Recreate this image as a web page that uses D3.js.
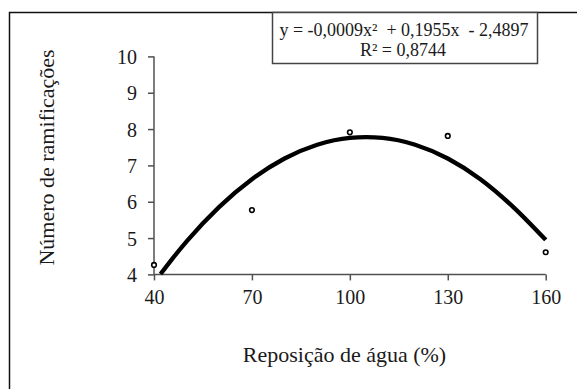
<!DOCTYPE html>
<html>
<head>
<meta charset="utf-8">
<script src="https://cdn.jsdelivr.net/npm/d3@7"></script>
<style>
  html, body { margin: 0; padding: 0; background: #fff; }
  svg { display: block; }
</style>
</head>
<body>
<svg id="chart" width="577" height="389"></svg>
<script>
// Observed data points
const waterLevels = [40, 70, 100, 130, 160];
const branchCounts = [4.26, 5.77, 7.91, 7.81, 4.61];

// Fitted trend line
const trendX = [42, 45, 50, 60, 70, 80, 90, 100, 105, 110, 120, 130, 140, 150, 160];
const trendY = [4.01, 4.36, 4.91, 5.86, 6.62, 7.19, 7.57, 7.76, 7.78, 7.76, 7.57, 7.19, 6.62, 5.86, 4.95];

// Axis ticks
const xTicks = [40, 70, 100, 130, 160];
const yTicks = [4, 5, 6, 7, 8, 9, 10];

// Texts
const xTitle = "Reposição de água (%)";
const yTitle = "Número de ramificações";
const eqLine1 = "y = -0,0009x²  + 0,1955x  - 2,4897";
const eqLine2 = "R² = 0,8744";

const FONT = "'Liberation Serif', 'Times New Roman', Times, serif";
const TXT = "#1a1a1a";

const svg = d3.select("#chart");

const x = d3.scaleLinear().domain([40, 160]).range([154, 545.7]);
const y = d3.scaleLinear().domain([4, 10]).range([274.4, 56.4]);

// Outer frame (top and left only visible)
svg.append("path")
  .attr("d", "M9.5,389 L9.5,12.5 L577,12.5")
  .attr("fill", "none").attr("stroke", "#111").attr("stroke-width", 1.5);

// Axes
const axisColor = "#505050";
const xAxis = svg.append("g").attr("transform", `translate(0,${y(4)})`)
  .call(d3.axisBottom(x).tickValues(xTicks).tickSize(6).tickPadding(9).tickFormat(d3.format("d")));
const yAxis = svg.append("g").attr("transform", `translate(${x(40)},0)`)
  .call(d3.axisLeft(y).tickValues(yTicks).tickSize(6).tickPadding(11).tickFormat(d3.format("d")));
[xAxis, yAxis].forEach(g => {
  g.attr("font-family", FONT).attr("font-size", 20);
  g.select(".domain").attr("stroke", axisColor).attr("stroke-width", 1.5);
  g.selectAll(".tick line").attr("stroke", axisColor).attr("stroke-width", 1.5);
  g.selectAll(".tick text").attr("fill", TXT);
});
xAxis.select(".domain").attr("d", `M${x(40)},0H${x(160)}`);
yAxis.select(".domain").attr("d", `M0,${y(4)}V${y(10)}`);
yAxis.selectAll(".tick text").attr("dy", "0.36em");

// Trend line
const trend = trendX.map((d, i) => [d, trendY[i]]);
svg.append("path")
  .datum(trend)
  .attr("fill", "none")
  .attr("stroke", "#000")
  .attr("stroke-width", 4.3)
  .attr("d", d3.line().x(d => x(d[0])).y(d => y(d[1])).curve(d3.curveMonotoneX));

// Points
svg.selectAll("circle.pt")
  .data(waterLevels.map((d, i) => [d, branchCounts[i]]))
  .join("circle")
  .attr("class", "pt")
  .attr("cx", d => x(d[0]))
  .attr("cy", d => y(d[1]))
  .attr("r", 2.3)
  .attr("fill", "#fff")
  .attr("stroke", "#000")
  .attr("stroke-width", 1.6);

// Axis titles
svg.append("text")
  .attr("x", 344.5)
  .attr("y", 362)
  .attr("text-anchor", "middle")
  .attr("font-family", FONT).attr("font-size", 22).attr("fill", TXT)
  .text(xTitle);

svg.append("text")
  .attr("transform", `translate(54,157.5) rotate(-90)`)
  .attr("text-anchor", "middle")
  .attr("font-family", FONT).attr("font-size", 22).attr("fill", TXT)
  .text(yTitle);

// Equation box
svg.append("rect")
  .attr("x", 272.5).attr("y", 12.5)
  .attr("width", 265).attr("height", 51)
  .attr("fill", "#fff").attr("stroke", "#444").attr("stroke-width", 1.5);

svg.append("text")
  .attr("x", 404).attr("y", 35.5)
  .attr("text-anchor", "middle")
  .attr("font-family", FONT).attr("font-size", 18).attr("fill", TXT)
  .style("white-space", "pre")
  .text(eqLine1);
svg.append("text")
  .attr("x", 403).attr("y", 55.5)
  .attr("text-anchor", "middle")
  .attr("font-family", FONT).attr("font-size", 18).attr("fill", TXT)
  .text(eqLine2);
</script>
</body>
</html>
